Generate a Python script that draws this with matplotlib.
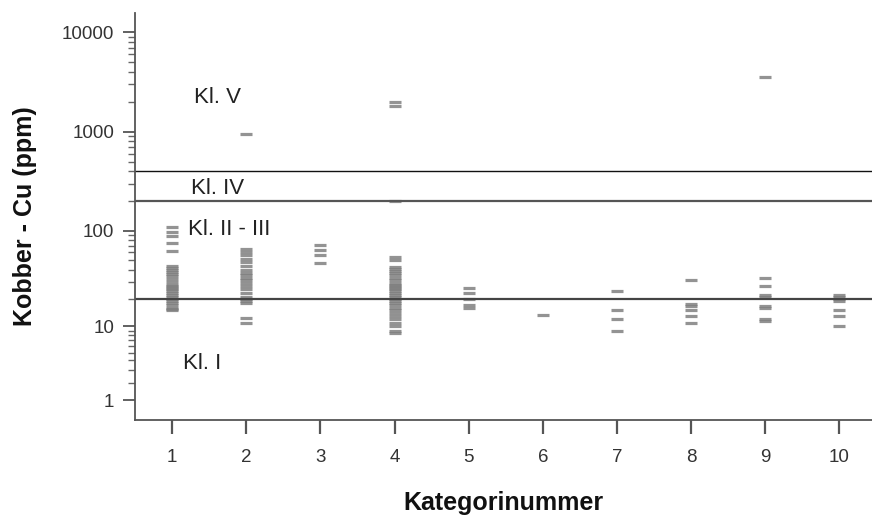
import numpy as np
import matplotlib
matplotlib.use('Agg')
import matplotlib.pyplot as plt
from matplotlib.ticker import FixedLocator, NullFormatter

# Cu values (ppm) per category
cat_1 = [110, 97, 88, 75, 62, 44, 42, 40, 38, 36, 34, 32, 30, 28, 27, 26, 25, 24, 23, 22, 21,
         20, 19, 18, 17, 16, 15.5, 15]
cat_2 = [950, 65, 60, 56, 52, 48, 44, 40, 37, 35, 33, 31, 29, 27, 25, 23, 21, 20, 19, 18, 12.5, 11]
cat_3 = [72, 64, 57, 47]
cat_4 = [2000, 1800, 200, 54, 50, 43, 41, 39, 37, 35, 33, 31, 29, 28, 27, 26, 25, 24, 23, 22, 21,
         20, 19, 18, 17, 16, 15, 14, 13, 12, 11, 10, 9, 8.5]
cat_5 = [26, 23, 20, 17, 16]
cat_6 = [13.3]
cat_7 = [24, 15, 12, 9]
cat_8 = [31, 17.5, 16.5, 15, 13, 11]
cat_9 = [3550, 33, 27, 22, 21, 16.5, 16, 12, 11.5]
cat_10 = [22, 21, 20, 19, 15, 13, 10]
all_cats = [cat_1, cat_2, cat_3, cat_4, cat_5, cat_6, cat_7, cat_8, cat_9, cat_10]

# class limits and labels
limits = [400, 200, 20]
class_labels = ['Kl. V', 'Kl. IV', 'Kl. II - III', 'Kl. I']
class_label_y = [2200, 270, 104, 3.7]
class_label_x = [1.30, 1.25, 1.22, 1.15]

y_major = [1, 10, 100, 1000, 10000]


def fwd(y):
    return np.log10(np.maximum(y, 0) + 1)


def inv(t):
    return 10 ** t - 1


def main():
    plt.rcParams['font.family'] = ['Liberation Sans', 'DejaVu Sans']
    fig = plt.figure(figsize=(8.72, 5.19), dpi=100)
    ax = fig.add_axes([135 / 872, 1 - 420 / 519, 1 - 135 / 872, 407 / 519])
    ax.set_yscale('function', functions=(fwd, inv))

    for i, vals in enumerate(all_cats):
        ax.plot([i + 1] * len(vals), vals, linestyle='none', marker='_', markersize=8.2,
                markeredgewidth=2.3, color='#808080', alpha=0.85)

    ax.axhline(limits[0], color='#111111', linewidth=1.0)
    ax.axhline(limits[1], color='#555555', linewidth=1.6)
    ax.axhline(limits[2], color='#444444', linewidth=1.6)

    for x, y, s in zip(class_label_x, class_label_y, class_labels):
        ax.text(x, y, s, fontsize=16, color='#222222', ha='left', va='center')

    ax.set_xlim(0.5, 10.44)
    ax.set_ylim(inv(0.10), inv(4.195))
    ax.set_xticks(range(1, 11))

    minors = [m * 10 ** d for d in range(0, 4) for m in range(2, 10)]
    ax.yaxis.set_major_locator(FixedLocator(y_major))
    ax.yaxis.set_minor_locator(FixedLocator(minors))
    ax.yaxis.set_minor_formatter(NullFormatter())
    ax.set_yticklabels([str(v) for v in y_major])

    for side in ['top', 'right']:
        ax.spines[side].set_visible(False)
    for side in ['left', 'bottom']:
        ax.spines[side].set_color('#555555')
        ax.spines[side].set_linewidth(1.3)

    ax.tick_params(axis='y', which='major', length=9, width=1.3, color='#555555',
                   labelsize=13.5, labelcolor='#333333', pad=6)
    ax.tick_params(axis='y', which='minor', length=5, width=1.0, color='#666666')
    ax.tick_params(axis='x', which='major', length=10, width=1.6, color='#555555',
                   labelsize=13.5, labelcolor='#333333', pad=11)

    ax.set_xlabel('Kategorinummer', fontsize=18, fontweight='bold', color='#111111', labelpad=18)
    ax.set_ylabel('Kobber - Cu (ppm)', fontsize=18, fontweight='bold', color='#111111', labelpad=18)

    fig.savefig('out.png', dpi=100)


if __name__ == "__main__":
    main()
